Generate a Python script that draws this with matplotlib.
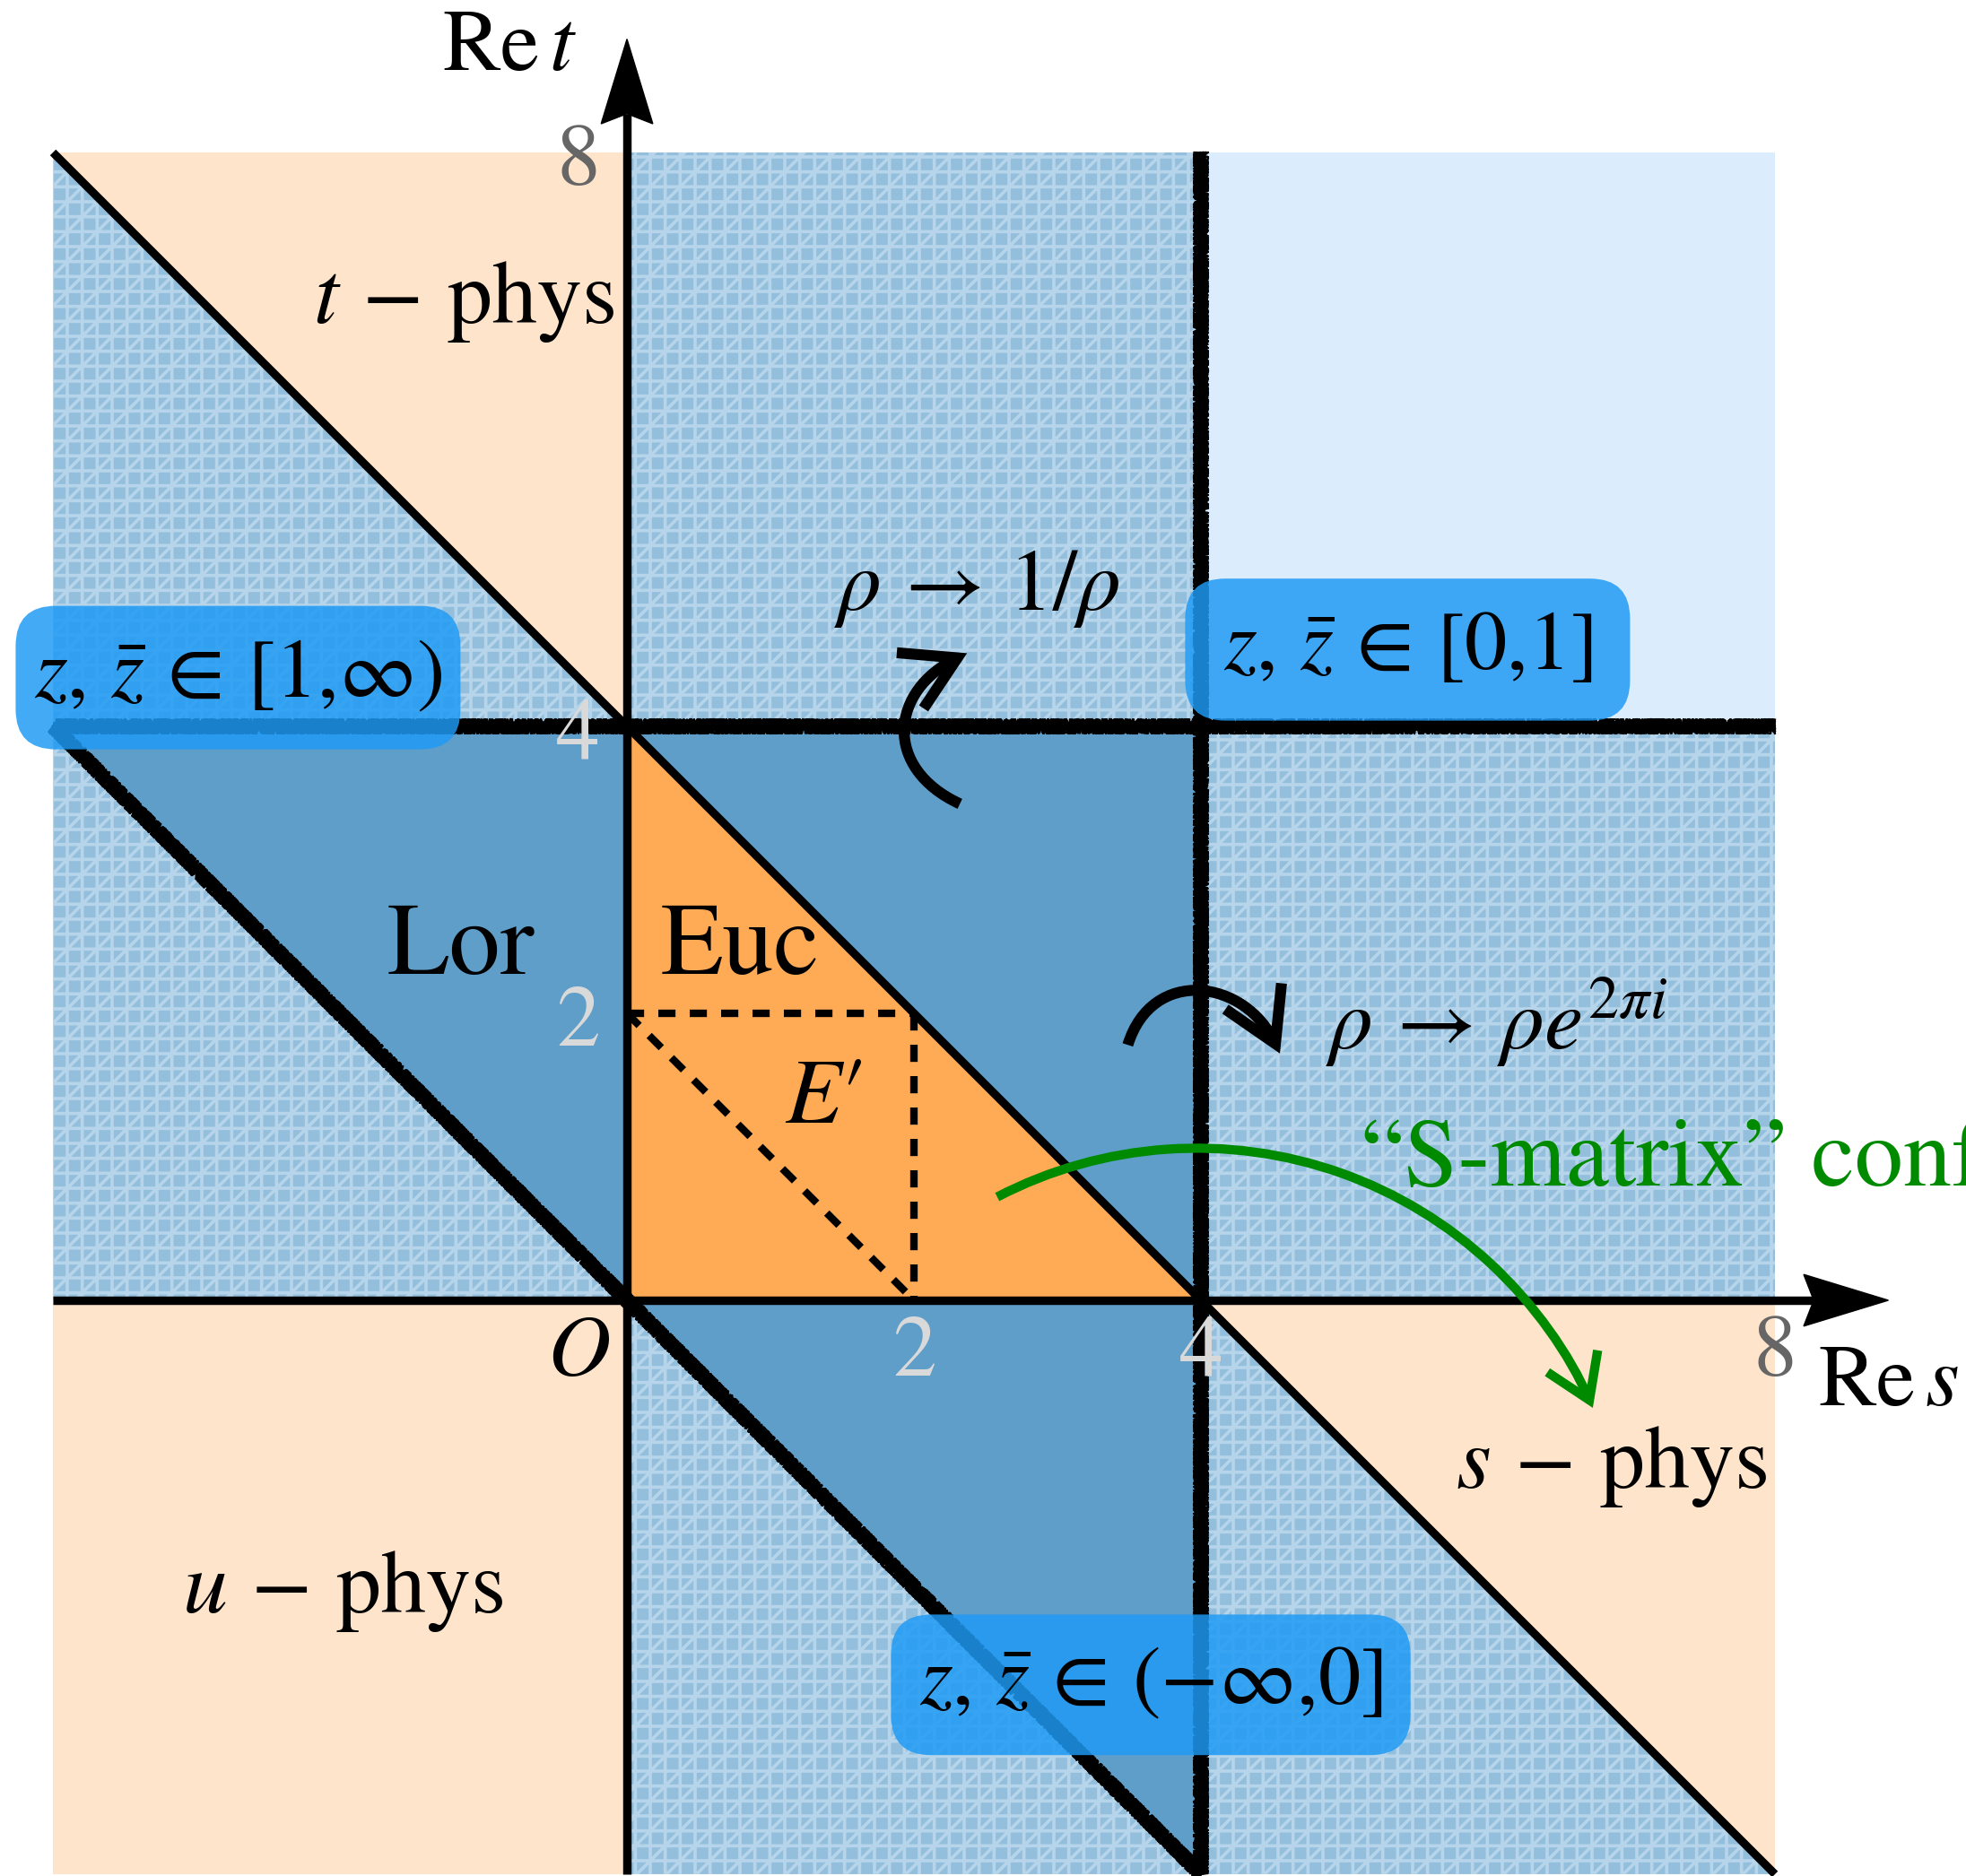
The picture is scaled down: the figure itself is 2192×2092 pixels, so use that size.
import numpy as np
import matplotlib
matplotlib.use("Agg")
import matplotlib.pyplot as plt
from matplotlib.patches import Polygon, FancyArrowPatch, FancyBboxPatch
from matplotlib.path import Path
from matplotlib.transforms import Affine2D

plt.rcParams['font.family'] = ['STIXGeneral', 'DejaVu Serif']
plt.rcParams['mathtext.fontset'] = 'stix'
plt.rcParams['hatch.linewidth'] = 1.3

# plane range (Re s, Re t)
lo, hi = -4, 8
thr = 4  # two-particle threshold

# regions (vertices in (s, t))
t_phys = [(-4, 8), (0, 8), (0, 4)]
s_phys = [(4, 0), (8, 0), (8, -4)]
u_phys = [(-4, 0), (0, 0), (0, -4), (-4, -4)]
top_right = [(4, 4), (8, 4), (8, 8), (4, 8)]
lor = [(-4, 4), (4, 4), (4, -4)]
euc = [(0, 0), (4, 0), (0, 4)]

# boundary lines: smooth ones and the rough (branch cut) ones
solid_lines = [((-4, 8), (0, 4)), ((0, 4), (4, 0)), ((4, 0), (8, -4))]
chalk_lines = [((lo, thr), (hi, thr)), ((thr, lo), (thr, hi)), ((-4, 4), (4, -4))]
dashed_lines = [((0, 2), (2, 2)), ((2, 2), (2, 0)), ((0, 2), (2, 0))]

# tick labels
xticks = [2, 4, 8]
xtick_colors = ['#d9d9d9', '#d9d9d9', '#666666']
yticks = [2, 4, 8]
ytick_colors = ['#d9d9d9', '#d9d9d9', '#666666']

# z ranges shown in the blue boxes
z_ranges = [r'[1{,}\infty)', r'[0{,}1]', r'(-\infty{,}0]']

c_hatch = '#94bfdc'
c_hatch_line = '#b6d5eb'
c_peach = '#ffe4cc'
c_light = '#dbedfc'
c_lor = '#5f9ec9'
c_euc = '#ffab56'
c_box = '#1f9af5'
c_green = '#008a00'

fig = plt.figure(figsize=(10.96, 10.46), dpi=200)
ax = fig.add_axes([0, 0, 1, 1])
ax.set_xlim(-4.369, 9.331)
ax.set_ylim(-4.0125, 9.0625)
ax.set_aspect('equal')
ax.axis('off')

# base hatched square
ax.add_patch(Polygon([(lo, lo), (hi, lo), (hi, hi), (lo, hi)], closed=True,
                     fc=c_hatch, ec=c_hatch_line, lw=0, hatch='++//', zorder=1))
for verts, col in [(t_phys, c_peach), (s_phys, c_peach), (u_phys, c_peach),
                   (top_right, c_light), (lor, c_lor), (euc, c_euc)]:
    ax.add_patch(Polygon(verts, closed=True, fc=col, ec='none', zorder=2))

for (x0, y0), (x1, y1) in solid_lines:
    ax.plot([x0, x1], [y0, y1], color='k', lw=3.3, zorder=4, solid_capstyle='butt')

# rough lines: thick core plus jittered strokes for the ragged edge
for (x0, y0), (x1, y1) in chalk_lines:
    ax.plot([x0, x1], [y0, y1], color='k', lw=3.5, zorder=4, solid_capstyle='butt')
    for k in range(8):
        ln, = ax.plot([x0, x1], [y0, y1], color='k', lw=0.8, zorder=4)
        ln.set_sketch_params(scale=8, length=1.2 + 0.5 * k, randomness=4 + 4 * k)

for (x0, y0), (x1, y1) in dashed_lines:
    ax.plot([x0, x1], [y0, y1], color='k', lw=3.0, dashes=(2.3, 1.9), zorder=4)

# axes with stealth heads
ax_end = 8.79
hl, hw, notch = 0.59, 0.18, 0.07
ax.plot([lo, ax_end - hl + notch], [0, 0], color='k', lw=3.4, zorder=5, solid_capstyle='butt')
ax.plot([0, 0], [lo, ax_end - hl + notch], color='k', lw=3.4, zorder=5, solid_capstyle='butt')
ax.add_patch(Polygon([(ax_end, 0), (ax_end - hl, hw), (ax_end - hl + notch, 0), (ax_end - hl, -hw)],
                     closed=True, fc='k', ec='k', lw=0.5, zorder=5))
ax.add_patch(Polygon([(0, ax_end), (hw, ax_end - hl), (0, ax_end - hl + notch), (-hw, ax_end - hl)],
                     closed=True, fc='k', ec='k', lw=0.5, zorder=5))

curve = [Path.MOVETO, Path.CURVE4, Path.CURVE4, Path.CURVE4]
head_black = '->,head_length=1.05,head_width=0.62'
head_green = '->,head_length=0.85,head_width=0.55'

# rho -> 1/rho
p = Path([(2.32, 3.46), (1.78, 3.71), (1.83, 4.25), (2.37, 4.51)], curve)
ax.add_patch(FancyArrowPatch(path=p, arrowstyle=head_black, mutation_scale=20, color='k',
                             lw=4.4, zorder=6, capstyle='butt', joinstyle='miter'))
# rho -> rho e^{2 pi i}
p = Path([(3.49, 1.78), (3.66, 2.33), (4.31, 2.24), (4.55, 1.72)], curve)
ax.add_patch(FancyArrowPatch(path=p, arrowstyle=head_black, mutation_scale=20, color='k',
                             lw=4.4, zorder=6, capstyle='butt', joinstyle='miter'))
# S-matrix arrow: circular arc, drawn clockwise
p = Path.arc(23.5, 117.5)
p = Path(p.vertices[::-1], p.codes)
p = Affine2D().scale(3.01).translate(3.97, -1.95).transform_path(p)
ax.add_patch(FancyArrowPatch(path=p, arrowstyle=head_green, mutation_scale=20, color=c_green,
                             lw=3.7, zorder=6, capstyle='butt', joinstyle='miter'))

fs = 35
# tick labels
for v, c in zip(xticks, xtick_colors):
    ax.text(v, -0.38, str(v), color=c, fontsize=fs, ha='center', va='center', zorder=6)
for v, c in zip(yticks, ytick_colors):
    ax.text(-0.34, v - 0.08, str(v), color=c, fontsize=fs, ha='center', va='center', zorder=6)
ax.text(-0.34, -0.38, r'$O$', fontsize=fs, ha='center', va='center', zorder=6)

ax.text(-0.35, 8.72, r'$\mathrm{Re}\,t$', fontsize=fs, ha='right', va='center', zorder=6)
ax.text(8.30, -0.59, r'$\mathrm{Re}\,s$', fontsize=fs, ha='left', va='center', zorder=6)

phys = r'$%s\,-\,\mathrm{phys}$'
ax.text(-1.14, 6.96, phys % 't', fontsize=36, ha='center', va='center', zorder=6)
ax.text(6.86, -1.16, phys % 's', fontsize=36, ha='center', va='center', zorder=6)
ax.text(-1.98, -2.03, phys % 'u', fontsize=36, ha='center', va='center', zorder=6)

ax.text(-1.16, 2.44, 'Lor', fontsize=41, ha='center', va='center', zorder=6)
ax.text(0.79, 2.44, 'Euc', fontsize=41, ha='center', va='center', zorder=6)
ax.text(1.37, 1.39, r'$E\prime$', fontsize=37, ha='center', va='center', zorder=6)

ax.text(2.44, 4.96, r'$\rho\,\rightarrow\,1/\rho$', fontsize=fs, ha='center', va='center', zorder=6)
ax.text(4.87, 1.94, r'$\rho\,\rightarrow\,\rho e^{2\pi i}$', fontsize=fs, ha='left', va='center', zorder=6)
ax.text(5.11, 0.96, '\u201cS-matrix\u201d conformal', fontsize=39, color=c_green,
        ha='left', va='center', zorder=6)

# rounded blue boxes with the z ranges
box_rects = [(-4.26, 3.84, 3.10, 1.00), (3.89, 4.04, 3.10, 0.99), (1.84, -3.17, 3.62, 0.98)]
for (bx, by, bw, bh), rng in zip(box_rects, z_ranges):
    ax.add_patch(FancyBboxPatch((bx, by), bw, bh, boxstyle='round,pad=0,rounding_size=0.28',
                                fc=c_box, ec='none', alpha=0.84, zorder=7))
    ax.text(bx + bw / 2, by + bh / 2, r'$z,\,\bar{z}\,\in\,%s$' % rng, fontsize=34,
            ha='center', va='center', zorder=8)

fig.savefig('out.png', dpi=200)
